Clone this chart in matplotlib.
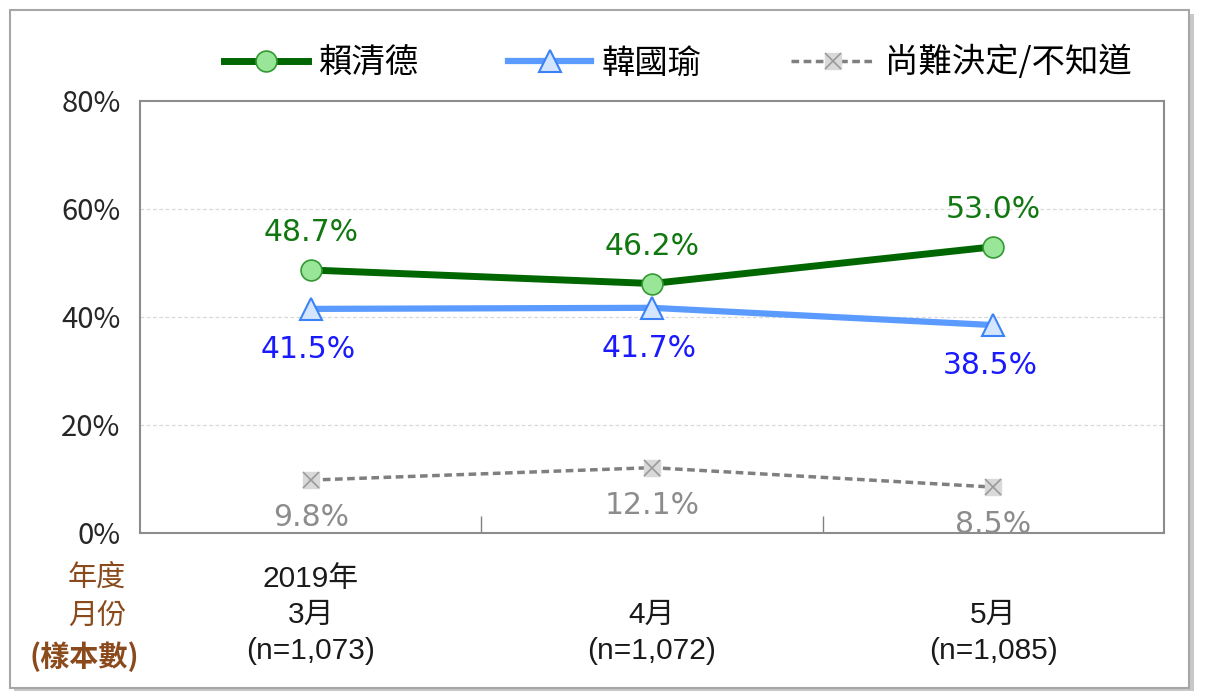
import matplotlib
matplotlib.use('Agg')
import matplotlib.pyplot as plt
from matplotlib.patches import FancyBboxPatch
from matplotlib.legend_handler import HandlerTuple
import numpy as np

# ── Data ──────────────────────────────────────────────────────────────────────
months = ["2019年\n3月\n(n=1,073)", "\n4月\n(n=1,072)", "\n5月\n(n=1,085)"]
lai = [48.7, 46.2, 53.0]
han = [41.5, 41.7, 38.5]
undecided = [9.8, 12.1, 8.5]
series_names = ["賴清德", "韓國瑜", "尚難決定/不知道"]
yticks = [0, 20, 40, 60, 80]

CJK = ["Noto Sans CJK TC", "DejaVu Sans"]
plt.rcParams['font.family'] = CJK

fig = plt.figure(figsize=(12.06, 6.97), dpi=100)

# outer frame with a soft shadow
shadow = FancyBboxPatch((0.012, 0.008), 0.978, 0.972, boxstyle="square,pad=0",
                        transform=fig.transFigure, facecolor="#C8C8C8",
                        edgecolor="none", zorder=0)
frame = FancyBboxPatch((0.008, 0.013), 0.978, 0.972, boxstyle="square,pad=0",
                       transform=fig.transFigure, facecolor="white",
                       edgecolor="#A6A6A6", linewidth=1.5, zorder=1)
fig.patches.extend([shadow, frame])

ax = fig.add_axes([0.1161, 0.2353, 0.8491, 0.6198])
ax.set_zorder(2)
x = np.arange(len(months)) + 0.5

ln1, = ax.plot(x, lai, color="#006600", lw=5, marker="o", ms=15,
               mfc="#99E699", mec="#339933", mew=1.2, zorder=5)
ln2, = ax.plot(x, han, color="#5B9BFF", lw=4.5, marker="^", ms=16,
               mfc="#D4E6FF", mec="#3B82F6", mew=1.5, zorder=4)
ln3, = ax.plot(x, undecided, color="#7F7F7F", lw=2.5, ls=(0, (2.2, 1.3)),
               marker="s", ms=12, mfc="#D9D9D9", mec="#D9D9D9", zorder=3)
ln3x, = ax.plot(x, undecided, ls="none", marker="x", ms=11, mec="#9A9A9A",
                mew=1.2, zorder=3.5)

for xi, v in zip(x, lai):
    ax.annotate(f"{v:.1f}%", (xi, v), xytext=(0, 27), textcoords="offset points",
                ha="center", va="center", fontsize=21.5, color="#117711",
                family="DejaVu Sans")
for xi, v in zip(x, han):
    ax.annotate(f"{v:.1f}%", (xi, v), xytext=(-2, -29), textcoords="offset points",
                ha="center", va="center", fontsize=21.5, color="#1A1AFF",
                family="DejaVu Sans")
for xi, v in zip(x, undecided):
    ax.annotate(f"{v:.1f}%", (xi, v), xytext=(0, -27), textcoords="offset points",
                ha="center", va="center", fontsize=21.5, color="#8C8C8C",
                family="DejaVu Sans", zorder=6)

ax.set_xlim(0, 3)
ax.set_ylim(0, 80)
ax.set_yticks(yticks)
ax.set_yticklabels([f"{t}%" for t in yticks], fontsize=21, color="#262626")
ax.tick_params(axis="y", length=0, pad=14)
ax.set_xticks([1, 2])
ax.set_xticklabels([])
ax.tick_params(axis="x", direction="in", length=12, width=1, color="#808080")
for t in [20, 40, 60]:
    ax.axhline(t, color="#D9D9D9", lw=0.9, ls=(0, (3, 2)), zorder=1)
for s in ax.spines.values():
    s.set_color("#8C8C8C")
    s.set_linewidth(1.5)

# category labels
for xi, lab in zip(x, months):
    ax.text(xi, -6.0, lab, ha="center", va="top", fontsize=21.5,
            family=["Liberation Sans", "Noto Sans CJK TC"], linespacing=1.36,
            color="#1A1A1A", transform=ax.transData, clip_on=False)

# row header
brown = "#8B4A1C"
fig.text(97 / 1206, 1 - 578 / 697, "年度", ha="center", va="center",
         fontsize=21, color=brown)
fig.text(97 / 1206, 1 - 617 / 697, "月份", ha="center", va="center",
         fontsize=21, color=brown)
fig.text(84 / 1206, 1 - 657 / 697, "(樣本數)", ha="center", va="center",
         fontsize=21, color=brown, fontweight="bold")

fig.legend([ln1, ln2, (ln3, ln3x)], series_names, loc="center",
           bbox_to_anchor=(678 / 1206, 1 - 63 / 697), ncol=3, frameon=False,
           fontsize=24, handlelength=2.5, handletextpad=0.3, columnspacing=2.7,
           handler_map={tuple: HandlerTuple(ndivide=1)})

fig.savefig("out.png", dpi=100)
